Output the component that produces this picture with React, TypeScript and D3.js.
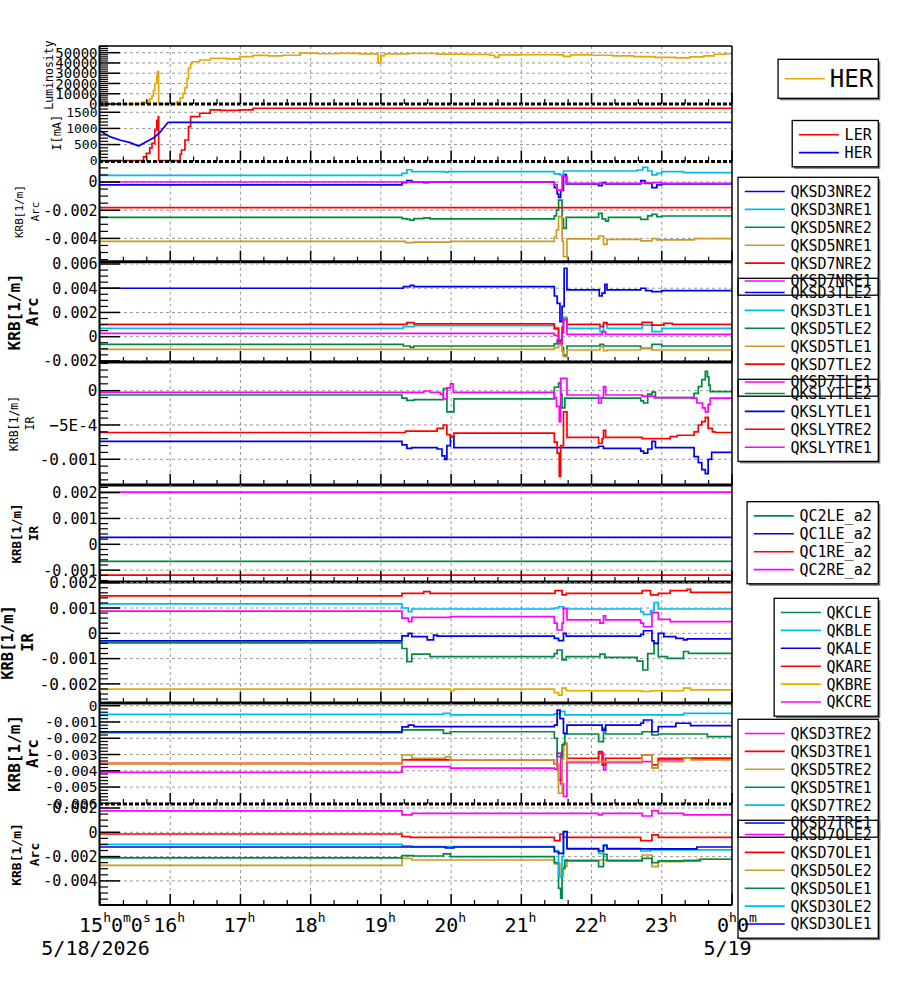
import { useEffect, useRef } from "react";
import * as d3 from "d3";

type Pt = [number, number];

// time axis in hours from 0h on 5/18 (24 = 0h on 5/19)
const hourTicks = [15, 16, 17, 18, 19, 20, 21, 22, 23, 24];
const hourLabels: [string, string][][] = [
  [["15", "h"], ["0", "m"], ["0", "s"]],
  [["16", "h"]],
  [["17", "h"]],
  [["18", "h"]],
  [["19", "h"]],
  [["20", "h"]],
  [["21", "h"]],
  [["22", "h"]],
  [["23", "h"]],
  [["0", "h"], ["0", "m"]],
];
const dateLabels: [number, string][] = [
  [15, "5/18/2026"],
  [24, "5/19"],
];

// luminosity and beam currents
const lumHER: Pt[] = [
  [15, 0], [15.59, 1500], [15.66, 3000], [15.71, 5000], [15.74, 8000], [15.76, 13000],
  [15.78, 20000], [15.81, 27000], [15.82, 31500], [15.835, 0], [16.09, 2000], [16.14, 6000],
  [16.18, 10400], [16.21, 16000], [16.24, 25000], [16.26, 34700], [16.29, 39000], [16.31, 41200],
  [16.42, 42900], [16.57, 44500], [16.8, 44000], [16.99, 46100], [17.18, 47400], [17.4, 47000],
  [17.6, 47500], [17.85, 49500], [18.1, 49000], [18.4, 49300], [18.7, 48800], [18.93, 48500],
  [18.96, 40000], [19.0, 47000], [19.05, 48800], [19.4, 49200], [19.8, 48700], [20.2, 48300],
  [20.55, 47500], [20.62, 45500], [20.68, 47800], [21.0, 48000], [21.5, 47800], [21.6, 46500],
  [21.7, 47800], [22.0, 47500], [22.3, 47000], [22.6, 46200], [22.9, 45500], [23.2, 45000],
  [23.4, 46000], [23.6, 47000], [23.75, 48500], [23.9, 49000],
];
const curLER: Pt[] = [
  [15, 0], [15.57, 0], [15.62, 120], [15.66, 228], [15.71, 400], [15.74, 538], [15.78, 952],
  [15.81, 1250], [15.83, 1366], [15.835, 0], [16.09, 0], [16.14, 200], [16.16, 331], [16.21, 642],
  [16.26, 1056], [16.29, 1366], [16.42, 1470], [16.57, 1573], [16.71, 1560], [16.99, 1573],
  [17.18, 1625],
];
const curHER: Pt[] = [
  [15, 930], [15.14, 745], [15.28, 640], [15.43, 560], [15.55, 455], [15.66, 590], [15.76, 700],
  [15.85, 870], [15.97, 1190], [24, 1190],
];

// Nikko arc sextupoles
const qksd3nre2: Pt[] = [
  [15, -0.00021], [19.3, -0.00005], [19.37, 0.0001], [19.44, 0], [19.61, -0.00005], [19.68, 0],
  [21.47, -0.0004], [21.51, -0.00085], [21.53, -0.00109], [21.56, -0.0006], [21.6, 0.00052],
  [21.64, -0.00014], [22.1, -0.00026], [22.15, -0.00005], [22.2, -0.00014], [22.7, 0.0001],
  [22.76, -0.0001], [22.86, -0.0004], [22.93, -0.0002], [23.0, -0.00014],
];
const qksd3nre1: Pt[] = [
  [15, 0.00047], [19.3, 0.00061], [19.37, 0.00087], [19.44, 0.00073], [19.92, 0.00069],
  [19.96, 0.00073], [21.47, 0.00057], [21.55, 0.0005], [21.6, 0.00078], [22.65, 0.00085],
  [22.73, 0.00104], [22.8, 0.00078], [22.86, 0.0005], [22.93, 0.00061], [23.0, 0.00073],
  [23.31, 0.00066],
];
const qksd5nre2: Pt[] = [
  [15, -0.00251], [19.3, -0.0026], [19.37, -0.00265], [19.42, -0.0027], [19.47, -0.0026],
  [19.61, -0.00255], [19.7, -0.00262], [21.47, -0.0024], [21.5, -0.00199], [21.53, -0.00128],
  [21.58, -0.0026], [21.6, -0.00329], [21.64, -0.00251], [22.1, -0.00222], [22.15, -0.00262],
  [22.2, -0.00277], [22.24, -0.00251], [22.7, -0.00265], [22.8, -0.0024], [22.86, -0.00229],
  [22.93, -0.00245], [23.0, -0.00241],
];
const qksd5nre1: Pt[] = [
  [15, -0.00421], [19.35, -0.0043], [19.47, -0.00426], [19.99, -0.00421], [21.47, -0.0039],
  [21.5, -0.0034], [21.53, -0.00246], [21.58, -0.0042], [21.6, -0.0053], [21.65, -0.00404],
  [22.1, -0.00383], [22.17, -0.00442], [22.22, -0.00407], [22.7, -0.00418], [22.86, -0.00402],
  [22.93, -0.00411], [23.46, -0.00402],
];
const qksd7nre2: Pt[] = [[15, -0.00182]];
const qksd7nre1: Pt[] = [
  [15, 0], [21.47, -0.0002], [21.51, -0.00057], [21.58, 0.00038], [21.65, -0.0001],
  [22.7, -0.00007], [22.89, -0.00005], [23.0, -0.0001],
];

// Tsukuba left arc
const qksd3tle2: Pt[] = [
  [15, 0.004], [19.32, 0.00413], [19.42, 0.00424], [19.47, 0.00413], [21.47, 0.00336],
  [21.51, 0.00275], [21.55, 0.00124], [21.58, 0.0025], [21.61, 0.00565], [21.65, 0.00386],
  [22.11, 0.00336], [22.15, 0.0036], [22.19, 0.00433], [22.22, 0.00386], [22.7, 0.004],
  [22.77, 0.0038], [22.86, 0.00372], [23.0, 0.0038],
];
const qksd3tle1: Pt[] = [
  [15, 0.00069], [19.32, 0.00083], [19.47, 0.00091], [21.47, 0.0006], [21.53, -0.00028],
  [21.58, 0.0004], [21.6, 0.0016], [21.65, 0.00069], [22.12, 0.00041], [22.17, 0.0011],
  [22.22, 0.00069], [22.72, 0.00096], [22.86, 0.00041], [23.0, 0.00069],
];
const qksd5tle2: Pt[] = [
  [15, -0.00063], [19.32, -0.00077], [19.42, -0.00088], [19.47, -0.00077], [21.47, -0.0006],
  [21.51, -0.00028], [21.58, -0.0009], [21.6, -0.00152], [21.65, -0.00077], [22.12, -0.00063],
  [22.17, -0.00077], [22.7, -0.00096], [22.86, -0.00063], [23.0, -0.00077],
];
const qksd5tle1: Pt[] = [
  [15, -0.00105], [21.47, -0.0009], [21.53, -0.00069], [21.58, -0.0012], [21.6, -0.00165],
  [21.65, -0.0011], [22.12, -0.00083], [22.17, -0.00116], [22.22, -0.0011], [22.7, -0.00096],
  [22.86, -0.0011],
];
const qksd7tle2: Pt[] = [
  [15, 0.00102], [19.37, 0.00116], [19.47, 0.00105], [21.47, 0.0007], [21.53, -0.0004],
  [21.58, 0.0008], [21.6, 0.00143], [21.65, 0.00102], [22.12, 0.00083], [22.17, 0.00116],
  [22.22, 0.00102], [22.72, 0.00118], [22.86, 0.00096], [23.03, 0.0011], [23.15, 0.00102],
];
const qksd7tle1: Pt[] = [
  [15, 0.00028], [21.47, 0.0001], [21.53, -0.00055], [21.58, 0.0003], [21.6, 0.00138],
  [21.65, 0.00019], [22.15, 0.00041], [22.2, 0.00019],
];

// local chromaticity correction sextupoles
const qkslytle2: Pt[] = [
  [15, -0.000063], [19.3, -0.00011], [19.37, -0.00014], [19.47, -0.00013], [19.89, 0.00003],
  [19.94, -0.00031], [20.04, -0.00012], [21.47, 0.00005], [21.53, 0.00011], [21.56, -0.00005],
  [21.58, -0.00025], [21.62, -0.00011], [22.7, -0.00015], [22.74, -0.00018], [22.8, -0.00005],
  [22.86, -0.00002], [22.91, -0.0001], [23.46, -0.00004], [23.52, 0.00006], [23.57, 0.00016],
  [23.62, 0.00028], [23.65, 0.0002], [23.67, 0.00008], [23.69, -0.000015],
];
const qkslytle1: Pt[] = [
  [15, -0.00074], [19.3, -0.00079], [19.37, -0.00084], [19.44, -0.00083], [19.8, -0.00085],
  [19.87, -0.00095], [19.91, -0.001], [19.94, -0.0008], [19.99, -0.00067], [20.04, -0.00083],
  [22.1, -0.00081], [22.17, -0.00084], [22.7, -0.00088], [22.74, -0.00091], [22.8, -0.00085],
  [22.86, -0.00074], [22.91, -0.00083], [23.46, -0.00096], [23.52, -0.00105], [23.57, -0.00115],
  [23.62, -0.00121], [23.66, -0.001], [23.71, -0.0009],
];
const qkslytre2: Pt[] = [
  [15, -0.00061], [19.35, -0.00059], [19.8, -0.00055], [19.89, -0.0005], [19.94, -0.00064],
  [19.99, -0.00067], [20.04, -0.00062], [21.47, -0.00075], [21.51, -0.00091], [21.54, -0.00125],
  [21.56, -0.0008], [21.6, -0.00031], [21.65, -0.00068], [22.1, -0.00077], [22.15, -0.0007],
  [22.17, -0.00058], [22.2, -0.00068], [22.72, -0.0007], [23.12, -0.00067], [23.22, -0.00065],
  [23.46, -0.0006], [23.52, -0.0005], [23.57, -0.00045], [23.62, -0.00039], [23.66, -0.00055],
  [23.72, -0.0006], [23.76, -0.00061],
];
const qkslytre1: Pt[] = [
  [15, -0.000024], [19.61, -0.000005], [19.7, -0.000024], [19.85, -0.00005], [19.89, -0.00012],
  [19.94, 0.00004], [19.99, 0.0001], [20.03, -0.000024], [21.47, -0.0001], [21.5, -0.00023],
  [21.54, -0.00045], [21.56, 0.00018], [21.65, -0.000063], [22.1, -0.00018], [22.14, -0.0001],
  [22.17, 0.00006], [22.2, -0.000063], [22.72, -0.000078], [22.89, -0.0001], [23.43, -0.00011],
  [23.5, -0.00018], [23.58, -0.00025], [23.62, -0.00031], [23.66, -0.0002], [23.69, -0.00011],
];

// final focus skew correctors
const qc2le_a2: Pt[] = [[15, -0.00066]];
const qc1le_a2: Pt[] = [[15, 0.00027]];
const qc1re_a2: Pt[] = [[15, -0.00119]];
const qc2re_a2: Pt[] = [[15, 0.00202]];

// IR sextupoles
const qkcle: Pt[] = [
  [15, -0.00038], [19.3, -0.0006], [19.37, -0.00112], [19.44, -0.00082], [19.7, -0.00092],
  [21.47, -0.0008], [21.51, -0.00066], [21.58, -0.00105], [21.64, -0.00092], [22.12, -0.00082],
  [22.19, -0.00095], [22.65, -0.0011], [22.73, -0.00145], [22.8, -0.0008], [22.89, -0.0004],
  [22.95, -0.00092], [23.08, -0.00099], [23.31, -0.00072], [23.38, -0.00079],
];
const qkble: Pt[] = [
  [15, 0.00116], [19.3, 0.001], [19.39, 0.00086], [19.44, 0.00096], [21.47, 0.001],
  [21.53, 0.00105], [21.6, 0.00096], [22.7, 0.00085], [22.74, 0.00075], [22.84, 0.0009],
  [22.89, 0.00121], [22.95, 0.00096],
];
const qkale: Pt[] = [
  [15, -0.0003], [19.3, -0.0001], [19.39, 0], [19.44, -0.00013], [19.66, -0.00026],
  [19.75, -0.00007], [19.8, -0.00011], [21.47, -0.0002], [21.53, -0.00029], [21.6, 0],
  [21.64, -0.00011], [22.7, -0.00005], [22.74, 0.0001], [22.86, -0.0003], [22.89, -0.0004],
  [22.95, 0], [23.03, -0.00013], [23.2, -0.0002], [23.31, -0.00026], [23.36, -0.00022],
];
const qkare: Pt[] = [
  [15, 0.00148], [19.3, 0.00158], [19.61, 0.00165], [19.7, 0.00158], [21.48, 0.00169],
  [21.58, 0.00152], [21.64, 0.00158], [22.72, 0.00169], [22.84, 0.00152], [22.95, 0.00158],
  [23.12, 0.00169], [23.36, 0.00174], [23.41, 0.00162],
];
const qkbre: Pt[] = [
  [15, -0.00221], [19.99, -0.00227], [20.04, -0.00221], [21.47, -0.00235], [21.53, -0.00244],
  [21.58, -0.00217], [21.64, -0.00227], [22.72, -0.0023], [22.84, -0.00227], [23.31, -0.00217],
  [23.41, -0.00224],
];
const qkcre: Pt[] = [
  [15, 0.00088], [19.3, 0.0006], [19.39, 0.00046], [19.44, 0.00063], [19.99, 0.00066],
  [21.47, 0.0004], [21.51, 0.00013], [21.58, 0.0004], [21.6, 0.00099], [21.65, 0.00053],
  [22.12, 0.0004], [22.17, 0.00069], [22.2, 0.00053], [22.7, 0.0004], [22.74, 0.00026],
  [22.86, 0.00082], [22.95, 0.00055], [23.12, 0.00046],
];

// Tsukuba right arc
const qksd3tre2: Pt[] = [
  [15, -0.00409], [19.3, -0.00374], [19.99, -0.00384], [21.47, -0.0039], [21.51, -0.00292],
  [21.56, -0.0048], [21.6, -0.00558], [21.65, -0.0035], [22.1, -0.00292], [22.17, -0.00395],
  [22.2, -0.0035], [22.72, -0.00344], [22.86, -0.00384], [22.95, -0.00333], [23.31, -0.00323],
];
const qksd3tre1: Pt[] = [
  [15, -0.00354], [19.3, -0.00333], [21.47, -0.0036], [21.53, -0.00456], [21.58, -0.0028],
  [21.6, -0.00231], [21.65, -0.00323], [22.1, -0.00282], [22.15, -0.00364], [22.2, -0.00323],
  [22.72, -0.00303], [22.86, -0.00364], [22.95, -0.00323],
];
const qksd5tre2: Pt[] = [
  [15, -0.00358], [19.3, -0.00303], [19.44, -0.00323], [19.92, -0.00313], [19.99, -0.00333],
  [21.47, -0.0036], [21.53, -0.00538], [21.58, -0.0033], [21.6, -0.00231], [21.65, -0.00344],
  [22.72, -0.00303], [22.86, -0.00384], [22.95, -0.00344], [23.31, -0.00323], [23.41, -0.00333],
];
const qksd5tre1: Pt[] = [
  [15, -0.00166], [19.3, -0.00149], [19.89, -0.0017], [19.99, -0.0016], [21.47, -0.002],
  [21.51, -0.00313], [21.58, -0.0024], [21.62, -0.00174], [22.1, -0.00221], [22.17, -0.00139],
  [22.2, -0.00174], [22.72, -0.0016], [22.86, -0.0018], [22.95, -0.00174], [23.65, -0.0019],
];
const qksd7tre2: Pt[] = [
  [15, -0.00053], [19.89, -0.00047], [19.99, -0.00057], [21.47, -0.0005], [21.55, -0.00035],
  [21.62, -0.00057], [23.31, -0.00047],
];
const qksd7tre1: Pt[] = [
  [15, -0.0016], [19.3, -0.0013], [19.39, -0.00119], [19.47, -0.00129], [21.47, -0.0012],
  [21.51, -0.00027], [21.55, -0.0008], [21.6, -0.0017], [21.65, -0.00119], [22.1, -0.00119],
  [22.15, -0.0015], [22.2, -0.00119], [22.7, -0.00108], [22.74, -0.00088], [22.86, -0.0016],
  [22.95, -0.00129], [23.2, -0.00108], [23.41, -0.00123],
];

// Oho arc
const qksd7ole2: Pt[] = [
  [15, 0.00176], [19.3, 0.00143], [19.44, 0.00156], [22.1, 0.00143], [22.15, 0.00156],
  [22.72, 0.00134], [22.86, 0.00178], [22.95, 0.00156], [23.31, 0.00143],
];
const qksd7ole1: Pt[] = [
  [15, -0.00014], [19.3, -0.00036], [19.42, -0.00041], [21.47, -0.00069], [21.55, -0.00014],
  [21.6, -0.00041], [22.7, -0.00069], [22.86, -0.00022], [22.95, -0.00041],
];
const qksd5ole2: Pt[] = [
  [15, -0.00272], [19.3, -0.00214], [19.44, -0.00228], [21.47, -0.0026], [21.55, -0.00365],
  [21.6, -0.0028], [21.65, -0.00228], [22.72, -0.00187], [22.86, -0.00283], [22.95, -0.00241],
  [23.31, -0.00228], [23.5, -0.00222],
];
const qksd5ole1: Pt[] = [
  [15, -0.00211], [19.3, -0.00192], [19.47, -0.00195], [19.89, -0.00178], [19.99, -0.002],
  [21.47, -0.0025], [21.53, -0.00461], [21.56, -0.00543], [21.58, -0.003], [21.62, -0.00228],
  [21.65, -0.00236], [22.1, -0.00283], [22.17, -0.00181], [22.22, -0.00236], [22.72, -0.00214],
  [22.86, -0.0025], [22.95, -0.00236], [23.55, -0.00222],
];
const qksd3ole2: Pt[] = [
  [15, -0.00099], [19.3, -0.00112], [19.44, -0.00118], [21.47, -0.0015], [21.53, -0.00365],
  [21.58, -0.002], [21.6, 0.00005], [21.65, -0.00132], [22.1, -0.00173], [22.17, -0.00104],
  [22.22, -0.00132], [22.7, -0.00154], [22.84, -0.00145],
];
const qksd3ole1: Pt[] = [
  [15, -0.00121], [19.92, -0.00129], [20.04, -0.00121], [21.47, -0.0016], [21.53, -0.00173],
  [21.6, 0.00005], [21.65, -0.00137], [22.1, -0.00154], [22.17, -0.0011], [22.22, -0.00137],
  [23.5, -0.00121],
];

const BLUE = "#0000ee";
const CYAN = "#00bbee";
const GREEN = "#008844";
const GOLD = "#cc9a22";
const RED = "#ff0000";
const MAGENTA = "#ff00ff";
const AMBER = "#e8a800";

type Series = { name: string; color: string; data: Pt[]; linear?: boolean };
type Panel = {
  top: number;
  bottom: number;
  domain: [number, number];
  ticks: number[];
  minor: number;
  labelSize: number;
  dashedBase?: boolean;
  title: { text: string; x: number }[];
  titleSize: number;
  bold?: boolean;
  legendDy: number;
  legendSize: number;
  series: Series[];
};

const panels: Panel[] = [
  {
    top: 46, bottom: 104, domain: [0, 56530], ticks: [0, 10000, 20000, 30000, 40000, 50000],
    minor: 2000, labelSize: 14, dashedBase: true,
    title: [{ text: "Luminosity", x: 49 }], titleSize: 11.5, legendDy: 13.3, legendSize: 24,
    series: [{ name: "HER", color: AMBER, data: lumHER }],
  },
  {
    top: 104, bottom: 161.5, domain: [-25, 1757], ticks: [0, 500, 1000, 1500],
    minor: 100, labelSize: 13, dashedBase: true,
    title: [{ text: "I[mA]", x: 57 }], titleSize: 12, legendDy: 16.5, legendSize: 15,
    series: [
      { name: "LER", color: RED, data: curLER },
      { name: "HER", color: BLUE, data: curHER, linear: true },
    ],
  },
  {
    top: 161.5, bottom: 261.7, domain: [-0.005652, 0.001454], ticks: [0, -0.002, -0.004],
    minor: 0.0005, labelSize: 15,
    title: [{ text: "KRB[1/m]", x: 19 }, { text: "Arc", x: 35 }], titleSize: 11,
    legendDy: 15.8, legendSize: 15,
    series: [
      { name: "QKSD3NRE2", color: BLUE, data: qksd3nre2 },
      { name: "QKSD3NRE1", color: CYAN, data: qksd3nre1 },
      { name: "QKSD5NRE2", color: GREEN, data: qksd5nre2 },
      { name: "QKSD5NRE1", color: GOLD, data: qksd5nre1 },
      { name: "QKSD7NRE2", color: RED, data: qksd7nre2 },
      { name: "QKSD7NRE1", color: MAGENTA, data: qksd7nre1 },
    ],
  },
  {
    top: 261.7, bottom: 362, domain: [-0.00209, 0.00619], ticks: [0.006, 0.004, 0.002, 0, -0.002],
    minor: 0.0005, labelSize: 15,
    title: [{ text: "KRB[1/m]", x: 14 }, { text: "Arc", x: 32.5 }], titleSize: 16, bold: true,
    legendDy: 16.6, legendSize: 15,
    series: [
      { name: "QKSD3TLE2", color: BLUE, data: qksd3tle2 },
      { name: "QKSD3TLE1", color: CYAN, data: qksd3tle1 },
      { name: "QKSD5TLE2", color: GREEN, data: qksd5tle2 },
      { name: "QKSD5TLE1", color: GOLD, data: qksd5tle1 },
      { name: "QKSD7TLE2", color: RED, data: qksd7tle2 },
      { name: "QKSD7TLE1", color: MAGENTA, data: qksd7tle1 },
    ],
  },
  {
    top: 362, bottom: 485, domain: [-0.001375, 0.000418], ticks: [0, -0.0005, -0.001],
    minor: 0.0001, labelSize: 16,
    title: [{ text: "KRB[1/m]", x: 14 }, { text: "IR", x: 30 }], titleSize: 11.5,
    legendDy: 17.3, legendSize: 15,
    series: [
      { name: "QKSLYTLE2", color: GREEN, data: qkslytle2 },
      { name: "QKSLYTLE1", color: BLUE, data: qkslytle1 },
      { name: "QKSLYTRE2", color: RED, data: qkslytre2 },
      { name: "QKSLYTRE1", color: MAGENTA, data: qkslytre1 },
    ],
  },
  {
    top: 485, bottom: 582, domain: [-0.001458, 0.002294], ticks: [0.002, 0.001, 0, -0.001],
    minor: 0.0002, labelSize: 15,
    title: [{ text: "KRB[1/m]", x: 16 }, { text: "IR", x: 33 }], titleSize: 12.5, bold: true,
    legendDy: 16.7, legendSize: 15,
    series: [
      { name: "QC2LE_a2", color: GREEN, data: qc2le_a2 },
      { name: "QC1LE_a2", color: BLUE, data: qc1le_a2 },
      { name: "QC1RE_a2", color: RED, data: qc1re_a2 },
      { name: "QC2RE_a2", color: MAGENTA, data: qc2re_a2 },
    ],
  },
  {
    top: 582, bottom: 703, domain: [-0.002755, 0.002028], ticks: [0.002, 0.001, 0, -0.001, -0.002],
    minor: 0.0002, labelSize: 16,
    title: [{ text: "KRB[1/m]", x: 8.3 }, { text: "IR", x: 27.5 }], titleSize: 15.5, bold: true,
    legendDy: 16.3, legendSize: 15,
    series: [
      { name: "QKCLE", color: GREEN, data: qkcle },
      { name: "QKBLE", color: CYAN, data: qkble },
      { name: "QKALE", color: BLUE, data: qkale },
      { name: "QKARE", color: RED, data: qkare },
      { name: "QKBRE", color: AMBER, data: qkbre },
      { name: "QKCRE", color: MAGENTA, data: qkcre },
    ],
  },
  {
    top: 703, bottom: 804, domain: [-0.006042, 0.000166],
    ticks: [0, -0.001, -0.002, -0.003, -0.004, -0.005, -0.006],
    minor: 0.0002, labelSize: 14.5, dashedBase: true,
    title: [{ text: "KRB[1/m]", x: 14 }, { text: "Arc", x: 32.5 }], titleSize: 16, bold: true,
    legendDy: 16.3, legendSize: 15,
    series: [
      { name: "QKSD3TRE2", color: MAGENTA, data: qksd3tre2 },
      { name: "QKSD3TRE1", color: RED, data: qksd3tre1 },
      { name: "QKSD5TRE2", color: GOLD, data: qksd5tre2 },
      { name: "QKSD5TRE1", color: GREEN, data: qksd5tre1 },
      { name: "QKSD7TRE2", color: CYAN, data: qksd7tre2 },
      { name: "QKSD7TRE1", color: BLUE, data: qksd7tre1 },
    ],
  },
  {
    top: 804, bottom: 905, domain: [-0.005984, 0.002329], ticks: [0.002, 0, -0.002, -0.004],
    minor: 0.0005, labelSize: 15,
    title: [{ text: "KRB[1/m]", x: 16.5 }, { text: "Arc", x: 34 }], titleSize: 13, bold: true,
    legendDy: 16.3, legendSize: 15,
    series: [
      { name: "QKSD7OLE2", color: MAGENTA, data: qksd7ole2 },
      { name: "QKSD7OLE1", color: RED, data: qksd7ole1 },
      { name: "QKSD5OLE2", color: GOLD, data: qksd5ole2 },
      { name: "QKSD5OLE1", color: GREEN, data: qksd5ole1 },
      { name: "QKSD3OLE2", color: CYAN, data: qksd3ole2 },
      { name: "QKSD3OLE1", color: BLUE, data: qksd3ole1 },
    ],
  },
];

const MONO = "'DejaVu Sans Mono', monospace";
const GRID = "#999999";

function tickText(v: number) {
  if (v === 0) return "0";
  if (Math.abs(v) >= 1) return d3.format("d")(v);
  if (Math.abs(v) < 0.001) return d3.format(".0e")(v).toUpperCase();
  return String(v);
}

export default function App() {
  const svgRef = useRef<SVGSVGElement>(null);

  useEffect(() => {
    if (!svgRef.current) return;
    const svg = d3.select(svgRef.current);
    svg.selectAll("*").remove();

    const x = d3.scaleLinear().domain([15, 24]).range([100, 732]);
    const minorHours = d3.range(15, 24.001, 1 / 3).filter((h) => Math.abs(h - Math.round(h)) > 0.01);

    const plots = svg.append("g");

    panels.forEach((p, i) => {
      const y = d3.scaleLinear().domain(p.domain).range([p.bottom, p.top]);
      const g = plots.append("g");

      // grid
      g.selectAll(".vgrid")
        .data(hourTicks.slice(1, -1))
        .join("line")
        .attr("x1", (d) => x(d))
        .attr("x2", (d) => x(d))
        .attr("y1", p.top)
        .attr("y2", p.bottom)
        .attr("stroke", GRID)
        .attr("stroke-dasharray", "3,3");
      g.selectAll(".hgrid")
        .data(p.ticks)
        .join("line")
        .attr("x1", 100)
        .attr("x2", 732)
        .attr("y1", (d) => y(d))
        .attr("y2", (d) => y(d))
        .attr("stroke", GRID)
        .attr("stroke-dasharray", "3,3");

      // series
      const clipId = `clip-${i}`;
      svg
        .append("clipPath")
        .attr("id", clipId)
        .append("rect")
        .attr("x", 100)
        .attr("y", p.top - 1.5)
        .attr("width", 632)
        .attr("height", p.bottom - p.top + 3);
      const lines = g.append("g").attr("clip-path", `url(#${clipId})`);
      p.series.forEach((s) => {
        const pts: Pt[] = [...s.data];
        const last = pts[pts.length - 1];
        if (last[0] < 24) pts.push([24, last[1]]);
        const line = d3
          .line<Pt>()
          .x((d) => x(d[0]))
          .y((d) => y(d[1]))
          .curve(s.linear ? d3.curveLinear : d3.curveStepAfter);
        lines
          .append("path")
          .datum(pts)
          .attr("d", line)
          .attr("fill", "none")
          .attr("stroke", s.color)
          .attr("stroke-width", 1.7);
      });

      // y ticks
      const [lo, hi] = p.domain;
      const minorVals = d3
        .range(Math.ceil(lo / p.minor) * p.minor, hi, p.minor)
        .filter((v) => !p.ticks.some((t) => Math.abs(t - v) < p.minor / 10));
      g.selectAll(".ymin")
        .data(minorVals)
        .join("line")
        .attr("x1", 100)
        .attr("x2", 108)
        .attr("y1", (d) => y(d))
        .attr("y2", (d) => y(d))
        .attr("stroke", "#000")
        .attr("stroke-width", 1.2);
      g.selectAll(".ymaj")
        .data(p.ticks)
        .join("line")
        .attr("x1", 100)
        .attr("x2", 120)
        .attr("y1", (d) => y(d))
        .attr("y2", (d) => y(d))
        .attr("stroke", "#000")
        .attr("stroke-width", 1.5);
      g.selectAll(".ylab")
        .data(p.ticks)
        .join("text")
        .attr("x", 97.5)
        .attr("y", (d) => y(d))
        .attr("dy", "0.36em")
        .attr("text-anchor", "end")
        .attr("font-family", MONO)
        .attr("font-size", p.labelSize)
        .attr("fill", "#000")
        .text((d) => tickText(d));

      // x ticks on the panel base
      g.selectAll(".xmaj")
        .data(hourTicks)
        .join("line")
        .attr("x1", (d) => x(d))
        .attr("x2", (d) => x(d))
        .attr("y1", p.bottom)
        .attr("y2", p.bottom - 11)
        .attr("stroke", "#000")
        .attr("stroke-width", 1.5);
      g.selectAll(".xmin")
        .data(minorHours)
        .join("line")
        .attr("x1", (d) => x(d))
        .attr("x2", (d) => x(d))
        .attr("y1", p.bottom)
        .attr("y2", p.bottom - 5)
        .attr("stroke", "#000")
        .attr("stroke-width", 1.2);

      // panel base line
      g.append("line")
        .attr("x1", 99)
        .attr("x2", 732)
        .attr("y1", p.bottom)
        .attr("y2", p.bottom)
        .attr("stroke", "#000")
        .attr("stroke-width", i === panels.length - 1 ? 2 : 3)
        .attr("stroke-dasharray", p.dashedBase ? "4,2" : null);

      // axis title
      const cy = (p.top + p.bottom) / 2;
      p.title.forEach((t) => {
        g.append("text")
          .attr("transform", `translate(${t.x},${cy}) rotate(-90)`)
          .attr("text-anchor", "middle")
          .attr("dominant-baseline", "central")
          .attr("font-family", MONO)
          .attr("font-size", p.titleSize)
          .attr("font-weight", p.bold ? "bold" : "normal")
          .attr("fill", "#000")
          .text(t.text);
      });
    });

    // frame
    plots
      .append("line")
      .attr("x1", 99.5)
      .attr("x2", 99.5)
      .attr("y1", panels[0].top)
      .attr("y2", 905)
      .attr("stroke", "#000")
      .attr("stroke-width", 2);
    plots
      .append("line")
      .attr("x1", 732)
      .attr("x2", 732)
      .attr("y1", panels[0].top)
      .attr("y2", 905)
      .attr("stroke", "#000")
      .attr("stroke-width", 1.5);
    plots
      .append("line")
      .attr("x1", 99)
      .attr("x2", 732)
      .attr("y1", panels[0].top)
      .attr("y2", panels[0].top)
      .attr("stroke", "#000")
      .attr("stroke-width", 1.5);

    // legends: backgrounds first, then entries, then borders on top
    const legBg = svg.append("g");
    const legFg = svg.append("g");
    const legBorder = svg.append("g");
    const right = 878.3;
    panels.forEach((panel) => {
      const n = panel.series.length;
      const big = panel.legendSize > 16;
      const rowH = 17.9;
      const pad = big ? 19.5 : 14.2;
      const top = panel.top + panel.legendDy;
      const h = pad * 2 + rowH * (n - 1);
      const maxChars = d3.max(panel.series, (s) => s.name.length) || 0;
      const textW = maxChars * panel.legendSize * 0.602;
      const w = 52.4 + textW + (big ? 4.5 : 6.6);
      const left = right - w;
      legBg
        .append("rect")
        .attr("x", left + 2)
        .attr("y", top + 2)
        .attr("width", w)
        .attr("height", h)
        .attr("fill", "#777");
      legBg
        .append("rect")
        .attr("x", left)
        .attr("y", top)
        .attr("width", w)
        .attr("height", h)
        .attr("fill", "#fff");
      panel.series.forEach((s, k) => {
        const ry = top + pad + k * rowH;
        legFg
          .append("line")
          .attr("x1", left + 6.7)
          .attr("x2", left + 46.7)
          .attr("y1", ry)
          .attr("y2", ry)
          .attr("stroke", s.color)
          .attr("stroke-width", 1.6);
        legFg
          .append("text")
          .attr("x", left + (big ? 51.7 : 52.4))
          .attr("y", ry)
          .attr("dy", "0.36em")
          .attr("font-family", MONO)
          .attr("font-size", panel.legendSize)
          .attr("fill", "#000")
          .text(s.name);
      });
      legBorder
        .append("rect")
        .attr("x", left)
        .attr("y", top)
        .attr("width", w)
        .attr("height", h)
        .attr("fill", "none")
        .attr("stroke", "#000")
        .attr("stroke-width", 1.3);
    });

    // time labels with superscript units, drawn over the legends
    const axisG = svg.append("g").attr("font-family", MONO).attr("fill", "#000");
    const mainAdv = 20 * 0.602;
    const supAdv = 13 * 0.602;
    hourTicks.forEach((h, i) => {
      const parts = hourLabels[i];
      const headW = parts[0][0].length * mainAdv + supAdv;
      const shift = parts.length > 1 ? -5 : -1;
      const t = axisG
        .append("text")
        .attr("x", x(h) - headW / 2 + shift)
        .attr("y", 932);
      parts.forEach(([num, unit], k) => {
        t.append("tspan").attr("font-size", 20).attr("dy", k === 0 ? 0 : 10).text(num);
        t.append("tspan").attr("font-size", 13).attr("dy", -10).text(unit);
      });
    });
    dateLabels.forEach(([h, label]) => {
      axisG
        .append("text")
        .attr("x", x(h) - 4.5)
        .attr("y", 955)
        .attr("text-anchor", "middle")
        .attr("font-size", 20)
        .text(label);
    });
  }, []);

  return (
    <svg
      ref={svgRef}
      width={900}
      height={984}
      style={{ position: "absolute", left: 0, top: 0, background: "#fff" }}
    />
  );
}
